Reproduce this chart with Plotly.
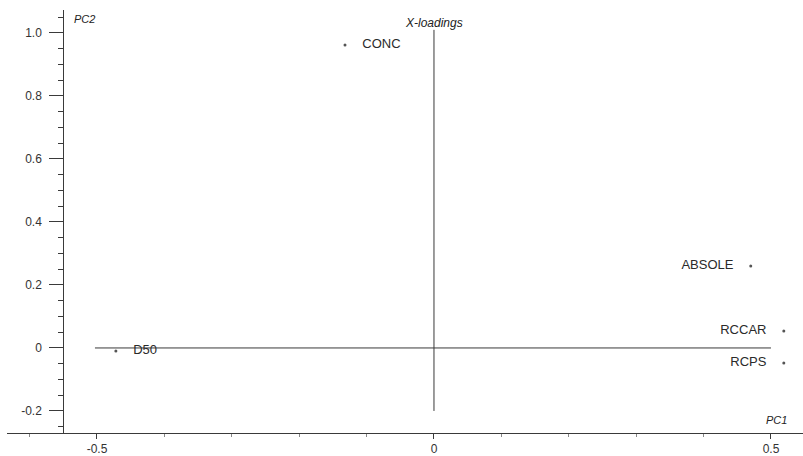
import plotly.graph_objects as go

# Loadings data (PC1, PC2)
variables = ["CONC", "ABSOLE", "RCCAR", "RCPS", "D50"]
pc1 = [-0.132, 0.470, 0.519, 0.519, -0.472]
pc2 = [0.962, 0.260, 0.054, -0.048, -0.010]
label_pos = ["middle right", "middle left", "middle left", "middle left", "middle right"]

# Reference cross lines
h_line_x = [-0.503, 0.500]
h_line_y = [0.0, 0.0]
v_line_x = [0.0, 0.0]
v_line_y = [1.01, -0.20]

y_ticks = [-0.2, 0, 0.2, 0.4, 0.6, 0.8, 1.0]
y_ticktext = ["-0.2", "0", "0.2", "0.4", "0.6", "0.8", "1.0"]
x_ticks = [-0.5, 0, 0.5]
x_ticktext = ["-0.5", "0", "0.5"]

ink = "#3a3a3a"
font = "Liberation Sans, Arial, sans-serif"

fig = go.Figure()
fig.add_trace(go.Scatter(x=h_line_x, y=h_line_y, mode="lines",
                         line=dict(color=ink, width=1), hoverinfo="skip"))
fig.add_trace(go.Scatter(x=v_line_x, y=v_line_y, mode="lines",
                         line=dict(color=ink, width=1), hoverinfo="skip"))
fig.add_trace(go.Scatter(x=pc1, y=pc2, mode="markers+text", text=variables,
                         textposition=label_pos,
                         texttemplate=["    %{text}" if p.endswith("right") else "%{text}    "
                                       for p in label_pos],
                         textfont=dict(family=font, size=13, color="#2a2a2a"),
                         marker=dict(size=3, color="#555")))

x_range = [-0.6335, 0.5475]
y_range = [-0.270, 1.073]
yaxis_x = -0.55
ypos = (yaxis_x - x_range[0]) / (x_range[1] - x_range[0])

fig.update_layout(
    width=803, height=456,
    margin=dict(l=7, r=0, t=10, b=23, autoexpand=False),
    paper_bgcolor="white", plot_bgcolor="white",
    showlegend=False,
    xaxis=dict(range=x_range, showgrid=False, zeroline=False, automargin=False,
               showline=True, linecolor=ink, linewidth=1,
               tickmode="array", tickvals=x_ticks, ticktext=x_ticktext,
               ticks="outside", ticklen=5, tickcolor=ink,
               tickfont=dict(family=font, size=12, color="#333"),
               minor=dict(dtick=0.1, tick0=0, ticks="outside", ticklen=3, tickcolor="#888")),
    yaxis=dict(range=y_range, showgrid=False, zeroline=False, automargin=False,
               anchor="free", position=ypos,
               showline=True, linecolor=ink, linewidth=1,
               tickmode="array", tickvals=y_ticks, ticktext=y_ticktext,
               ticks="outside", ticklen=14, tickcolor=ink, ticklabelstandoff=5,
               tickfont=dict(family=font, size=12, color="#333"),
               minor=dict(dtick=0.05, tick0=0, ticks="outside", ticklen=5, tickcolor=ink)),
    annotations=[
        dict(text="<i>X-loadings</i>", x=0, y=1.01, xref="x", yref="y",
             xanchor="center", yanchor="bottom", yshift=-2, showarrow=False,
             font=dict(family=font, size=12, color="#222")),
        dict(text="<i>PC2</i>", x=yaxis_x, y=y_range[1], xref="x", yref="y",
             xanchor="left", yanchor="top", xshift=9, yshift=-1, showarrow=False,
             font=dict(family=font, size=11, color="#222")),
        dict(text="<i>PC1</i>", x=x_range[1], y=y_range[0], xref="x", yref="y",
             xanchor="right", yanchor="bottom", xshift=-14, yshift=5, showarrow=False,
             font=dict(family=font, size=11, color="#222")),
    ],
)

fig.write_html("out.html", config={"displayModeBar": False},
               post_script="document.body.style.margin='0';")
